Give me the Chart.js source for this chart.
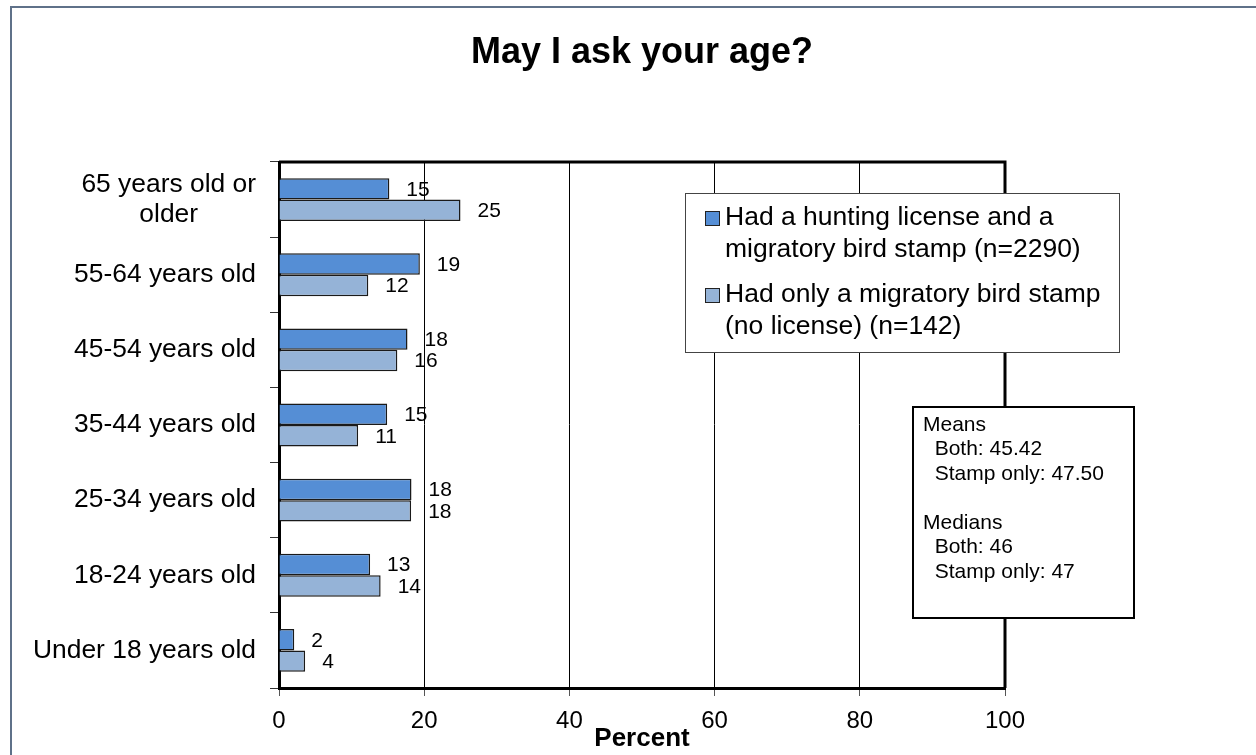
<!DOCTYPE html>
<html>
<head>
<meta charset="utf-8">
<title>May I ask your age?</title>
<script src="https://cdn.jsdelivr.net/npm/chart.js@4/dist/chart.umd.min.js"></script>
<style>
    body { margin: 0; background: #fff; }
    #wrap { position: relative; width: 1256px; height: 755px; }
</style>
</head>
<body>
<div id="wrap"><canvas id="ageChart"></canvas></div>
<script>
const categories = [
    ['65 years old or', 'older'],
    '55-64 years old',
    '45-54 years old',
    '35-44 years old',
    '25-34 years old',
    '18-24 years old',
    'Under 18 years old'
];
const bothValues = [15.2, 19.4, 17.7, 14.9, 18.25, 12.55, 2.1];
const stampOnlyValues = [25.0, 12.3, 16.3, 10.9, 18.2, 14.0, 3.6];
const seriesNames = [
    'Had a hunting license and a migratory bird stamp (n=2290)',
    'Had only a migratory bird stamp (no license) (n=142)'
];
const legendLines = [
    ['Had a hunting license and a', 'migratory bird stamp (n=2290)'],
    ['Had only a migratory bird stamp', '(no license) (n=142)']
];
const xTicks = [0, 20, 40, 60, 80, 100];
const statsLines = [
    'Means',
    '  Both: 45.42',
    '  Stamp only: 47.50',
    '',
    'Medians',
    '  Both: 46',
    '  Stamp only: 47'
];

const FONT = '"Liberation Sans", Arial, sans-serif';

// outer frame, plot border, legend box, stats box
const decorPlugin = {
    id: 'decor',
    beforeDraw(chart) {
        const ctx = chart.ctx;
        ctx.save();
        ctx.strokeStyle = '#5f7189';
        ctx.lineWidth = 2;
        ctx.beginPath();
        ctx.moveTo(11, chart.height);
        ctx.lineTo(11, 7);
        ctx.lineTo(chart.width, 7);
        ctx.stroke();
        ctx.restore();
    },
    afterDraw(chart) {
        const ctx = chart.ctx;
        const area = chart.chartArea;
        ctx.save();

        // top and right edges of the plot
        ctx.strokeStyle = '#000';
        ctx.lineWidth = 3;
        ctx.beginPath();
        ctx.moveTo(area.left, area.top);
        ctx.lineTo(area.right, area.top);
        ctx.lineTo(area.right, area.bottom);
        ctx.stroke();

        // legend
        const lx = 685, ly = 193, lw = 434, lh = 159;
        ctx.fillStyle = '#fff';
        ctx.fillRect(lx, ly, lw, lh);
        ctx.strokeStyle = '#444';
        ctx.lineWidth = 1;
        ctx.strokeRect(lx + 0.5, ly + 0.5, lw, lh);
        ctx.font = '26.5px ' + FONT;
        ctx.textBaseline = 'middle';
        ctx.textAlign = 'left';
        chart.data.datasets.forEach((ds, i) => {
            const top = ly + 25 + i * 77;
            ctx.fillStyle = ds.backgroundColor;
            ctx.fillRect(705, top - 7, 15, 15);
            ctx.strokeStyle = '#222';
            ctx.strokeRect(705.5, top - 6.5, 14, 14);
            ctx.fillStyle = '#000';
            legendLines[i].forEach((line, j) => {
                ctx.fillText(line, 725, top + j * 32);
            });
        });

        // means / medians box
        const bx = 913, by = 407, bw = 221, bh = 211;
        ctx.fillStyle = '#fff';
        ctx.fillRect(bx, by, bw, bh);
        ctx.strokeStyle = '#000';
        ctx.lineWidth = 2;
        ctx.strokeRect(bx, by, bw, bh);
        ctx.fillStyle = '#000';
        ctx.font = '21px ' + FONT;
        statsLines.forEach((line, i) => {
            ctx.fillText(line, 923, 425 + i * 24.5);
        });

        ctx.restore();
    }
};

// category labels, lines centred inside a right-aligned block
const yLabelPlugin = {
    id: 'yLabels',
    afterDraw(chart) {
        const ctx = chart.ctx;
        const y = chart.scales.y;
        ctx.save();
        ctx.font = '26.4px ' + FONT;
        ctx.fillStyle = '#000';
        ctx.textAlign = 'center';
        ctx.textBaseline = 'middle';
        categories.forEach((label, i) => {
            const lines = [].concat(label);
            const widest = Math.max(...lines.map(l => ctx.measureText(l).width));
            const cx = y.right - 23 - widest / 2;
            const cy = y.getPixelForValue(i);
            lines.forEach((line, j) => {
                ctx.fillText(line, cx, cy + (j - (lines.length - 1) / 2) * 30);
            });
        });
        ctx.restore();
    }
};

// value labels just past the end of each bar
const valueLabelPlugin = {
    id: 'valueLabels',
    afterDatasetsDraw(chart) {
        const ctx = chart.ctx;
        ctx.save();
        ctx.font = '21px ' + FONT;
        ctx.fillStyle = '#000';
        ctx.textAlign = 'left';
        ctx.textBaseline = 'middle';
        chart.data.datasets.forEach((ds, di) => {
            const meta = chart.getDatasetMeta(di);
            meta.data.forEach((bar, i) => {
                ctx.fillText(String(Math.round(ds.data[i])), bar.x + 17, bar.y + 1);
            });
        });
        ctx.restore();
    }
};

const ctx = document.getElementById('ageChart').getContext('2d');
new Chart(ctx, {
    type: 'bar',
    data: {
        labels: categories,
        datasets: [{
            label: seriesNames[0],
            data: bothValues,
            backgroundColor: '#558ed5',
            borderColor: '#1a1a1a',
            borderWidth: 1.5,
            categoryPercentage: 0.57,
            barPercentage: 1
        }, {
            label: seriesNames[1],
            data: stampOnlyValues,
            backgroundColor: '#95b3d7',
            borderColor: '#1a1a1a',
            borderWidth: 1.5,
            categoryPercentage: 0.57,
            barPercentage: 1
        }]
    },
    options: {
        indexAxis: 'y',
        responsive: true,
        maintainAspectRatio: false,
        animation: false,
        layout: { padding: { left: 0, top: 0, right: 251, bottom: 0 } },
        scales: {
            x: {
                min: 0,
                max: 100,
                afterBuildTicks: (scale) => {
                    scale.ticks = xTicks.map(v => ({ value: v }));
                },
                afterFit: (scale) => { scale.height = 67; },
                grid: {
                    color: '#000',
                    lineWidth: 1,
                    tickLength: 8,
                    tickColor: '#555'
                },
                border: { display: true, color: '#000', width: 3 },
                ticks: {
                    color: '#000',
                    padding: 11,
                    font: { family: FONT, size: 24 }
                },
                title: {
                    display: true,
                    text: 'Percent',
                    color: '#000',
                    padding: 1,
                    font: { family: FONT, size: 26, weight: 'bold' }
                }
            },
            y: {
                afterFit: (scale) => { scale.width = 279; },
                grid: {
                    drawOnChartArea: false,
                    tickLength: 9,
                    tickColor: '#333'
                },
                border: { display: true, color: '#000', width: 3 },
                ticks: { display: false }
            }
        },
        plugins: {
            legend: { display: false },
            tooltip: { enabled: false },
            title: {
                display: true,
                fullSize: false,
                text: 'May I ask your age?',
                color: '#000',
                font: { family: FONT, size: 36, weight: 'bold' },
                padding: { top: 31.4, bottom: 87.4 }
            }
        }
    },
    plugins: [decorPlugin, valueLabelPlugin, yLabelPlugin]
});
</script>
</body>
</html>
